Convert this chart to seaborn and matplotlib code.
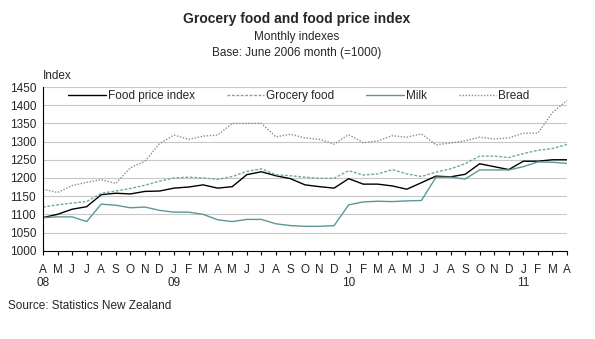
import numpy as np
import pandas as pd
import matplotlib
matplotlib.use("Agg")
import matplotlib.pyplot as plt
import seaborn as sns

months = ["A", "M", "J", "J", "A", "S", "O", "N", "D",
          "J", "F", "M", "A", "M", "J", "J", "A", "S", "O", "N", "D",
          "J", "F", "M", "A", "M", "J", "J", "A", "S", "O", "N", "D",
          "J", "F", "M", "A"]
years = {0: "08", 9: "09", 21: "10", 33: "11"}

food_price = [1091, 1100, 1114, 1121, 1154, 1158, 1156, 1163, 1164, 1172, 1175,
              1181, 1172, 1176, 1209, 1217, 1206, 1198, 1181, 1176, 1172, 1198,
              1183, 1183, 1178, 1169, 1187, 1205, 1203, 1210, 1239, 1231, 1223,
              1246, 1246, 1250, 1250]
grocery = [1120, 1126, 1131, 1135, 1158, 1164, 1171, 1180, 1191, 1200, 1202,
           1200, 1196, 1204, 1218, 1225, 1209, 1206, 1202, 1199, 1199, 1220,
           1208, 1211, 1223, 1211, 1204, 1216, 1225, 1239, 1260, 1260, 1256,
           1267, 1276, 1281, 1292]
milk = [1091, 1093, 1093, 1080, 1128, 1125, 1118, 1120, 1111, 1106, 1106,
        1100, 1085, 1080, 1086, 1086, 1074, 1069, 1067, 1067, 1069, 1126,
        1134, 1136, 1135, 1137, 1138, 1202, 1202, 1197, 1222, 1222, 1222,
        1231, 1244, 1243, 1240]
bread = [1169, 1160, 1179, 1188, 1195, 1185, 1228, 1246, 1294, 1318, 1306,
         1315, 1318, 1350, 1350, 1350, 1313, 1320, 1310, 1306, 1293, 1319,
         1297, 1302, 1316, 1312, 1321, 1291, 1296, 1302, 1312, 1307, 1310,
         1323, 1323, 1380, 1413]

series_names = ["Food price index", "Grocery food", "Milk", "Bread"]
series_vals = [food_price, grocery, milk, bread]

frames = []
for name, vals in zip(series_names, series_vals):
    frames.append(pd.DataFrame({"t": np.arange(len(vals)), "value": vals, "series": name}))
df = pd.concat(frames, ignore_index=True)

sns.set_style("white")
plt.rcParams["font.family"] = ["Liberation Sans", "DejaVu Sans"]

FS = 8.5
fig = plt.figure(figsize=(5.95, 3.39), dpi=100)
ax = fig.add_axes([43/595, 1 - 250.7/339, (567 - 43)/595, (250.7 - 87)/339])

palette = {"Food price index": "#000000", "Grocery food": "#6fa8a8",
           "Milk": "#5a9898", "Bread": "#8c8c8c"}
dashes = {"Food price index": "", "Grocery food": (2, 1.2),
          "Milk": "", "Bread": (1, 1.2)}
sns.lineplot(data=df, x="t", y="value", hue="series", style="series",
             palette=palette, dashes=dashes, hue_order=series_names,
             style_order=series_names, linewidth=1.0, ax=ax, legend="full")

ax.set_xlim(0, 36)
ax.set_ylim(1000, 1450)
ax.set_yticks(np.arange(1000, 1451, 50))
ax.yaxis.grid(True, color="#c8c8c8", linewidth=0.8)
ax.xaxis.grid(False)
ax.set_axisbelow(True)
for s in ["top", "right"]:
    ax.spines[s].set_visible(False)
for s in ["left", "bottom"]:
    ax.spines[s].set_color("black")
    ax.spines[s].set_linewidth(0.8)

labels = [m + ("\n" + years[i] if i in years else "") for i, m in enumerate(months)]
ax.set_xticks(np.arange(len(months)))
ax.set_xticklabels(labels, fontsize=FS, linespacing=1.1)
for lab in ax.get_xticklabels():
    lab.set_multialignment("center")
ax.tick_params(axis="x", direction="out", length=3, width=0.8, color="black", pad=6.5, bottom=True)
ax.tick_params(axis="y", length=0, pad=5, labelsize=FS)
ax.set_xlabel("")
ax.set_ylabel("")

h, l = ax.get_legend_handles_labels()
leg = ax.legend(h, l, loc="center", bbox_to_anchor=(0.488, 0.945), ncol=4,
                frameon=False, fontsize=FS, handlelength=3.2, handletextpad=0.15,
                columnspacing=2.7, borderaxespad=0, borderpad=0)

fig.text(43/595, 1 - 76/339, "Index", fontsize=FS, ha="left", va="center")
fig.text(297/595, 1 - 19/339, "Grocery food and food price index", fontsize=10,
         fontweight="bold", ha="center", va="center")
fig.text(297/595, 1 - 37/339, "Monthly indexes", fontsize=FS, ha="center", va="center")
fig.text(297/595, 1 - 53/339, "Base: June 2006 month (=1000)", fontsize=FS,
         ha="center", va="center")
fig.text(8/595, 1 - 306/339, "Source: Statistics New Zealand", fontsize=FS,
         ha="left", va="center")

fig.savefig("out.png", dpi=100)
